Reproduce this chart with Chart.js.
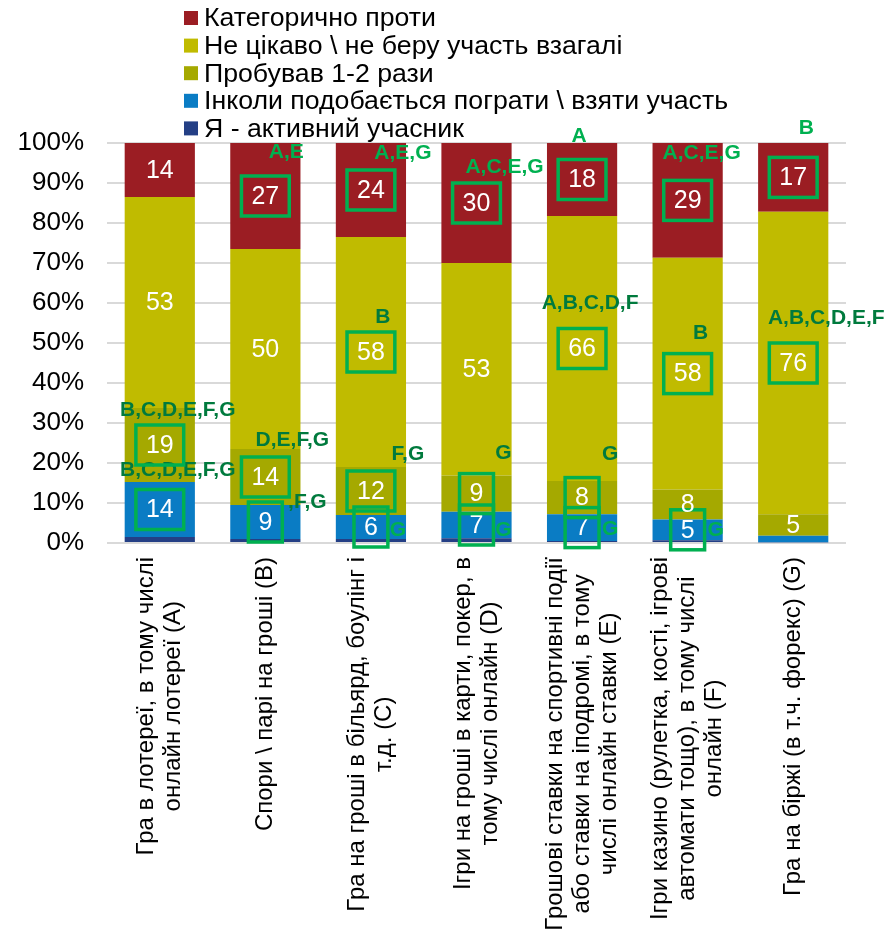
<!DOCTYPE html>
<html lang="uk">
<head>
<meta charset="utf-8">
<title>Ставлення до азартних ігор</title>
<script src="https://cdn.jsdelivr.net/npm/chart.js@4.4.1/dist/chart.umd.min.js"></script>
<style>
  html, body { margin: 0; padding: 0; background: #fff; }
  #wrap { width: 885px; height: 935px; }
</style>
</head>
<body>
<div id="wrap"><canvas id="chart" width="885" height="935"></canvas></div>
<script>
/* ---------- дані ---------- */
const categories = [
  ["Гра в лотереї, в тому числі", "онлайн лотереї (A)"],
  ["Спори \\ парі на гроші (B)"],
  ["Гра на гроші в більярд, боулінг і", "т.д. (C)"],
  ["Ігри на гроші в карти, покер, в", "тому числі онлайн (D)"],
  ["Грошові ставки на спортивні події", "або ставки на іподромі, в тому", "числі онлайн ставки (E)"],
  ["Ігри казино (рулетка, кості, ігрові", "автомати тощо), в тому числі", "онлайн (F)"],
  ["Гра на біржі (в т.ч. форекс) (G)"],
];

const seriesNames = [
  "Я - активний учасник",
  "Інколи подобається пограти \\ взяти участь",
  "Пробував 1-2 рази",
  "Не цікаво \\ не беру участь взагалі",
  "Категорично проти",
];

// % respondents, bottom of the stack first
const active        = [1.5, 1, 1, 1.2, 0.5, 0.7, 0.2];
const sometimes     = [13.75, 8.5, 6, 6.6, 6.7, 5.2, 1.6];
const tried         = [18.5, 14, 12, 9.1, 8.3, 7.5, 5.4];
const notInterested = [52.75, 50, 57.5, 53.1, 66.25, 57.9, 75.6];
const against       = [13.5, 26.5, 23.5, 30, 18.25, 28.7, 17.2];

const yTicks = [0, 10, 20, 30, 40, 50, 60, 70, 80, 90, 100];

// which value labels are framed (significant difference)
const boxed = [
  [0, 0, 0, 0, 0, 0, 0],
  [1, 1, 1, 1, 1, 1, 0],
  [1, 1, 1, 1, 1, 0, 0],
  [0, 0, 1, 0, 1, 1, 1],
  [0, 1, 1, 1, 1, 1, 1],
];

// letters of the groups it differs from
const sigLetters = [
  ["", "", "", "", "", "", ""],
  ["B,C,D,E,F,G", ",F,G", "G", "G", "G", "G", ""],
  ["B,C,D,E,F,G", "D,E,F,G", "F,G", "G", "G", "", ""],
  ["", "", "B", "", "A,B,C,D,F", "B", "A,B,C,D,E,F"],
  ["", "A,E", "A,E,G", "A,C,E,G", "A", "A,C,E,G", "B"],
];

/* ---------- оформлення ---------- */
const colors = ["#243f85", "#0a7cc4", "#a5a900", "#c0bb00", "#9b1d23"];
const GREEN = "#00b050";
const DARK_GREEN = "#007a3d";
const FONT = "'Liberation Sans', Arial, sans-serif";

// letter offsets from the value label centre [dx, dy, tone]
const sigLayout = [
  [null, null, null, null, null, null, null],
  [[18, -39, "d"], [42, -20, "d"], [27, 3, "b"], [27, 5, "b"], [28, 2, "b"], [28, 0, "b"], null],
  [[18, -35, "d"], [27, -37, "d"], [37, -37, "d"], [27, -40, "d"], [28, -43, "d"], null, null],
  [null, null, [12, -35, "d"], null, [8, -45, "d"], [13, -40, "d"], [33, -45, "d"]],
  [null, [21, -44, "b"], [32, -37, "b"], [28, -36, "b"], [-3, -43, "b"], [14, -47, "b"], [13, -49, "b"]],
];

const series = [active, sometimes, tried, notInterested, against];

const datasets = series.map((data, i) => ({
  label: seriesNames[i],
  data,
  backgroundColor: colors[i],
  borderWidth: 0,
  barPercentage: 0.665,
  categoryPercentage: 1,
}));

/* ---------- плагіни ---------- */
const segmentLabels = {
  id: "segmentLabels",
  afterDatasetsDraw(chart) {
    const ctx = chart.ctx;
    ctx.save();
    ctx.textAlign = "center";
    ctx.textBaseline = "middle";
    chart.data.datasets.forEach((ds, di) => {
      const meta = chart.getDatasetMeta(di);
      meta.data.forEach((bar, ci) => {
        const v = ds.data[ci];
        const cx = bar.x;
        const cy = (bar.y + bar.base) / 2;
        if (v >= 4) {
          const txt = String(Math.round(v));
          ctx.font = "25px " + FONT;
          ctx.fillStyle = "#fff";
          ctx.fillText(txt, cx, cy + 1);
          if (boxed[di][ci]) {
            const w = ctx.measureText(txt).width + 20;
            ctx.strokeStyle = GREEN;
            ctx.lineWidth = 3.5;
            ctx.strokeRect(cx - w / 2, cy - 20, w, 40);
          }
        }
        const note = sigLetters[di][ci];
        const lay = sigLayout[di][ci];
        if (note && lay) {
          ctx.font = "bold 21px " + FONT;
          ctx.fillStyle = lay[2] === "b" ? GREEN : DARK_GREEN;
          ctx.fillText(note, cx + lay[0], cy + lay[1]);
        }
      });
    });
    ctx.restore();
  },
};

const sideTexts = {
  id: "sideTexts",
  afterDraw(chart) {
    const ctx = chart.ctx;
    ctx.save();
    // legend, top series first
    ctx.textAlign = "left";
    ctx.textBaseline = "middle";
    ctx.font = "26.7px " + FONT;
    for (let k = 0; k < datasets.length; k++) {
      const di = datasets.length - 1 - k;
      const y = 18 + k * 27.6;
      ctx.fillStyle = colors[di];
      ctx.fillRect(184, y - 7, 14, 14);
      ctx.fillStyle = "#000";
      ctx.fillText(seriesNames[di], 204, y + 1);
    }
    // category labels, rotated, lines centred
    const xs = chart.scales.x;
    ctx.font = "24px " + FONT;
    ctx.textAlign = "center";
    categories.forEach((lines, i) => {
      const xc = xs.getPixelForValue(i);
      const maxW = Math.max(...lines.map(l => ctx.measureText(l).width));
      const yc = chart.chartArea.bottom + 14 + maxW / 2;
      lines.forEach((line, j) => {
        ctx.save();
        ctx.translate(xc + (j - (lines.length - 1) / 2) * 27, yc);
        ctx.rotate(-Math.PI / 2);
        ctx.fillText(line, 0, 0);
        ctx.restore();
      });
    });
    ctx.restore();
  },
};

/* ---------- графік ---------- */
new Chart(document.getElementById("chart"), {
  type: "bar",
  data: { labels: categories, datasets },
  options: {
    responsive: false,
    animation: false,
    layout: { padding: { top: 143, right: 39, left: 0, bottom: 0 } },
    plugins: {
      legend: { display: false },
      tooltip: { enabled: false },
    },
    scales: {
      x: {
        stacked: true,
        grid: { display: false },
        border: { display: false },
        ticks: { display: false },
        afterFit: (axis) => { axis.height = 392; },
      },
      y: {
        stacked: true,
        min: 0,
        max: 100,
        afterBuildTicks: (axis) => { axis.ticks = yTicks.map(v => ({ value: v })); },
        grid: { color: "#d9d9d9", lineWidth: 2, drawTicks: false },
        border: { display: false },
        ticks: {
          padding: 23,
          color: "#000",
          font: { family: FONT, size: 26 },
          callback: (v) => v + "%",
        },
        afterFit: (axis) => { axis.width = 107; },
      },
    },
  },
  plugins: [segmentLabels, sideTexts],
});
</script>
</body>
</html>
